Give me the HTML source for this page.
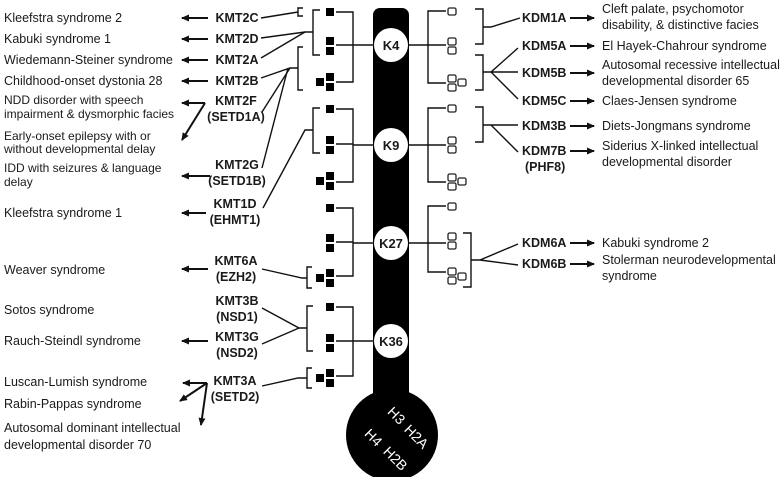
<!DOCTYPE html>
<html><head><meta charset="utf-8"><style>
html,body{margin:0;padding:0;background:#fff}
svg{display:block}
text{font-family:"Liberation Sans",Arial,sans-serif;font-size:12.5px;fill:#1a1a1a}
.b{font-weight:bold}
.w{fill:#fff}
.s{font-size:12px}
</style></head><body>
<svg width="784" height="477" viewBox="0 0 784 477" xmlns="http://www.w3.org/2000/svg">
<defs>
<marker id="a" markerWidth="8" markerHeight="8" refX="7" refY="4" orient="auto" markerUnits="userSpaceOnUse"><path d="M0,0.5 L8,4 L0,7.5 z" fill="#111"/></marker>
</defs>
<rect x="373" y="8" width="36" height="400" rx="7" fill="#000"/>
<circle cx="392" cy="435" r="46" fill="#000"/>
<g fill="#fff"><circle cx="391" cy="45" r="17"/><circle cx="391" cy="145" r="17"/><circle cx="391" cy="243" r="17"/><circle cx="391" cy="341" r="17"/></g>
<g class="b" text-anchor="middle">
<text x="391" y="50" style="font-size:13px">K4</text><text x="391" y="150" style="font-size:13px">K9</text><text x="391" y="248" style="font-size:13px">K27</text><text x="391" y="346" style="font-size:13px">K36</text>
</g>
<g text-anchor="middle">
<text class="w" transform="translate(393,419) rotate(45)" style="font-size:14px">H3</text>
<text class="w" transform="translate(370,441) rotate(45)" style="font-size:14px">H4</text>
<text class="w" transform="translate(413,440) rotate(45)" style="font-size:14px">H2A</text>
<text class="w" transform="translate(392,462) rotate(45)" style="font-size:14px">H2B</text>
</g>

<g fill="#000">
<rect x="326" y="8" width="8" height="8"/>
<rect x="326" y="37" width="8" height="8"/><rect x="326" y="47" width="8" height="8"/>
<rect x="326" y="73" width="8" height="8"/><rect x="326" y="83" width="8" height="8"/><rect x="316" y="78" width="8" height="8"/>
<rect x="326" y="105" width="8" height="8"/>
<rect x="326" y="136" width="8" height="8"/><rect x="326" y="146" width="8" height="8"/>
<rect x="326" y="172" width="8" height="8"/><rect x="326" y="182" width="8" height="8"/><rect x="316" y="177" width="8" height="8"/>
<rect x="326" y="204" width="8" height="8"/>
<rect x="326" y="234" width="8" height="8"/><rect x="326" y="244" width="8" height="8"/>
<rect x="326" y="269" width="8" height="8"/><rect x="326" y="279" width="8" height="8"/><rect x="316" y="274" width="8" height="8"/>
<rect x="326" y="303" width="8" height="8"/>
<rect x="326" y="334" width="8" height="8"/><rect x="326" y="344" width="8" height="8"/>
<rect x="326" y="369" width="8" height="8"/><rect x="326" y="379" width="8" height="8"/><rect x="316" y="374" width="8" height="8"/>
</g>
<g fill="#fff" stroke="#222" stroke-width="1.3">
<rect x="448" y="8" width="8" height="7" rx="1.5"/>
<rect x="448" y="38" width="8" height="7" rx="1.5"/><rect x="448" y="47" width="8" height="7" rx="1.5"/>
<rect x="448" y="75" width="8" height="7" rx="1.5"/><rect x="448" y="84" width="8" height="7" rx="1.5"/><rect x="458" y="79" width="8" height="7" rx="1.5"/>
<rect x="448" y="105" width="8" height="7" rx="1.5"/>
<rect x="448" y="137" width="8" height="7" rx="1.5"/><rect x="448" y="146" width="8" height="7" rx="1.5"/>
<rect x="448" y="174" width="8" height="7" rx="1.5"/><rect x="448" y="183" width="8" height="7" rx="1.5"/><rect x="458" y="178" width="8" height="7" rx="1.5"/>
<rect x="448" y="203" width="8" height="7" rx="1.5"/>
<rect x="448" y="233" width="8" height="7" rx="1.5"/><rect x="448" y="242" width="8" height="7" rx="1.5"/>
<rect x="448" y="268" width="8" height="7" rx="1.5"/><rect x="448" y="277" width="8" height="7" rx="1.5"/><rect x="458" y="273" width="8" height="7" rx="1.5"/>
</g>

<g fill="none" stroke="#111" stroke-width="1.4">
<path d="M336,12 H353 V82 H336 M353,45 H374"/>
<path d="M336,109 H353 V182 H336 M353,145 H374"/>
<path d="M336,208 H353 V276 H336 M353,243 H374"/>
<path d="M336,307 H353 V376 H336 M353,341 H374 M336,341 H353"/>
<path d="M336,45 H353 M336,144 H353 M336,242 H353"/>
<path d="M446,11 H428 V83 H446 M409,45 H446"/>
<path d="M446,108 H428 V182 H446 M409,145 H446"/>
<path d="M446,206 H428 V272 H446 M409,243 H446"/>
<path d="M303,8 H298 V16 H303"/>
<path d="M320,10 H313 V55 H320"/>
<path d="M303,47 H298 V90 H303"/>
<path d="M320,108 H313 V153 H320"/>
<path d="M312,267 H307 V288 H312"/>
<path d="M313,306 H307 V351 H313"/>
<path d="M312,368 H307 V388 H312"/>
<path d="M261,18 L298,12"/>
<path d="M261,38 L305,32 H313"/>
<path d="M261,58 L305,32"/>
<path d="M261,78 L290,68 H298"/>
<path d="M262,112 L290,68"/>
<path d="M262,168 L288,68"/>
<path d="M263,208 L305,130 H313"/>
<path d="M262,269 L302,278 H307"/>
<path d="M262,308 L299,328 H307"/>
<path d="M262,344 L299,328"/>
<path d="M262,386 L298,378 H307"/>
<path d="M475,9 H483 V44 H475 M483,27 H491 L520,18"/>
<path d="M475,55 H483 V90 H475 M483,72 H491 L518,48 M491,72 H518 M491,72 L518,99"/>
<path d="M475,107 H483 V142 H475 M483,125 H491 H518 M491,125 L518,152"/>
<path d="M463,233 H471 V287 H463 M471,260 H480 L518,244 M480,260 L518,265"/>
</g>
<g stroke="#111" stroke-width="2" fill="none" marker-end="url(#a)">
<path d="M208,18 H182"/><path d="M208,39 H182"/><path d="M208,60 H182"/><path d="M208,81 H182"/>
<path d="M205,103 H182"/><path d="M205,103 L182,140"/>
<path d="M210,176 H182"/><path d="M206,213 H182"/><path d="M208,269 H182"/><path d="M208,341 H182"/>
<path d="M207,383 H183"/><path d="M207,383 L180,401"/><path d="M207,383 L201,425"/>
<path d="M570,18 H594"/><path d="M570,46 H594"/><path d="M570,73 H594"/><path d="M570,101 H594"/><path d="M570,126 H594"/><path d="M570,151 H594"/><path d="M570,243 H594"/><path d="M570,264 H594"/>
</g>

<g class="b" text-anchor="middle">
<text x="237" y="22">KMT2C</text><text x="237" y="43">KMT2D</text><text x="237" y="64">KMT2A</text><text x="237" y="85">KMT2B</text>
<text x="236" y="105">KMT2F</text><text x="236" y="121">(SETD1A)</text>
<text x="237" y="169">KMT2G</text><text x="237" y="185">(SETD1B)</text>
<text x="235" y="208">KMT1D</text><text x="235" y="224">(EHMT1)</text>
<text x="236" y="265">KMT6A</text><text x="236" y="281">(EZH2)</text>
<text x="237" y="305">KMT3B</text><text x="237" y="321">(NSD1)</text>
<text x="237" y="341">KMT3G</text><text x="237" y="357">(NSD2)</text>
<text x="235" y="385">KMT3A</text><text x="235" y="401">(SETD2)</text>
</g>
<g>
<text x="4" y="22">Kleefstra syndrome 2</text>
<text x="4" y="43">Kabuki syndrome 1</text>
<text x="4" y="64">Wiedemann-Steiner syndrome</text>
<text x="4" y="85">Childhood-onset dystonia 28</text>
<text class="s" x="4" y="104">NDD disorder with speech</text>
<text class="s" x="4" y="118">impairment &amp; dysmorphic facies</text>
<text class="s" x="4" y="140">Early-onset epilepsy with or</text>
<text class="s" x="4" y="153">without developmental delay</text>
<text class="s" x="4" y="172">IDD with seizures &amp; language</text>
<text class="s" x="4" y="186">delay</text>
<text x="4" y="217">Kleefstra syndrome 1</text>
<text x="4" y="274">Weaver syndrome</text>
<text x="4" y="314">Sotos syndrome</text>
<text x="4" y="345">Rauch-Steindl syndrome</text>
<text x="4" y="386">Luscan-Lumish syndrome</text>
<text x="4" y="408">Rabin-Pappas syndrome</text>
<text x="4" y="432">Autosomal dominant intellectual</text>
<text x="4" y="449">developmental disorder 70</text>
</g>
<g class="b">
<text x="522" y="22">KDM1A</text><text x="522" y="50">KDM5A</text><text x="522" y="77">KDM5B</text><text x="522" y="105">KDM5C</text>
<text x="522" y="130">KDM3B</text><text x="522" y="155">KDM7B</text><text x="525" y="171">(PHF8)</text>
<text x="522" y="247">KDM6A</text><text x="522" y="268">KDM6B</text>
</g>
<g>
<text x="602" y="13">Cleft palate, psychomotor</text>
<text x="602" y="29">disability, &amp; distinctive facies</text>
<text x="602" y="50">El Hayek-Chahrour syndrome</text>
<text x="602" y="69">Autosomal recessive intellectual</text>
<text x="602" y="85">developmental disorder 65</text>
<text x="602" y="105">Claes-Jensen syndrome</text>
<text x="602" y="130">Diets-Jongmans syndrome</text>
<text x="602" y="150">Siderius X-linked intellectual</text>
<text x="602" y="166">developmental disorder</text>
<text x="602" y="247">Kabuki syndrome 2</text>
<text x="602" y="264">Stolerman neurodevelopmental</text>
<text x="602" y="280">syndrome</text>
</g>
</svg>
</body></html>
